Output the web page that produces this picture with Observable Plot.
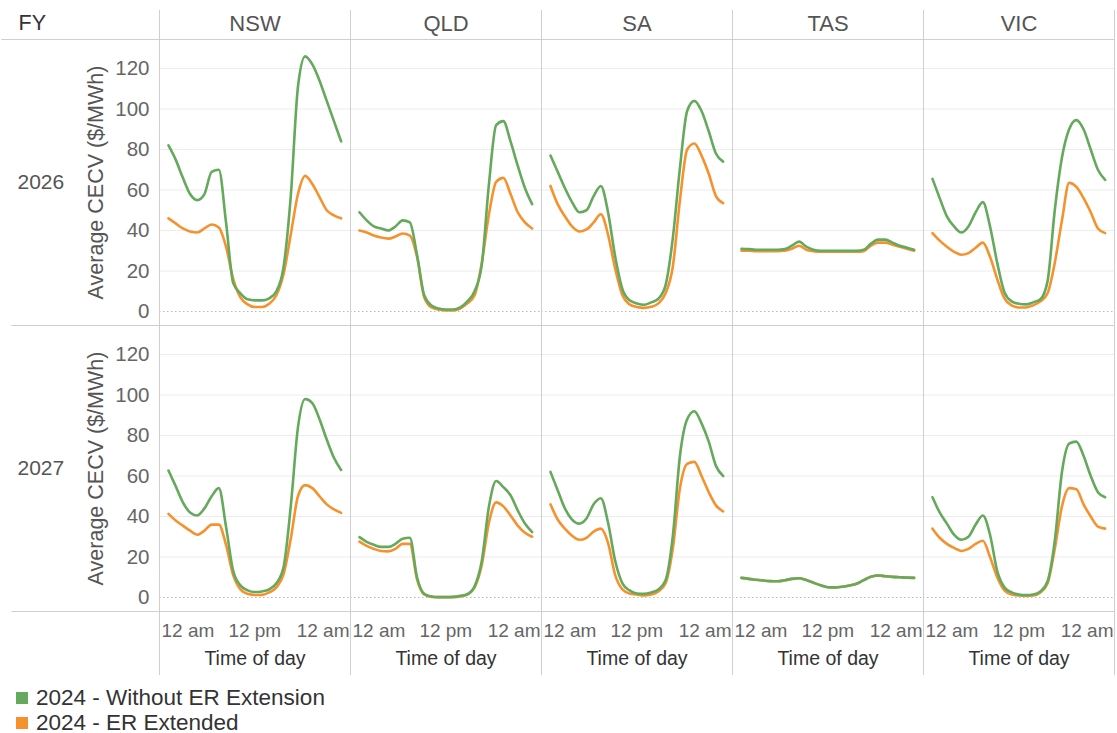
<!DOCTYPE html>
<html>
<head>
<meta charset="utf-8">
<script src="https://cdn.jsdelivr.net/npm/d3@7"></script>
<script src="https://cdn.jsdelivr.net/npm/@observablehq/plot@0.6"></script>
<style>
  html, body { margin: 0; padding: 0; background: #fff; }
  body { font-family: "Liberation Sans", Arial, sans-serif; width: 1117px; height: 733px; overflow: hidden; }
  #legend { padding: 5px 0 0 16px; color: #333; font-size: 22.5px; }
  .item { display: flex; align-items: center; height: 25px; }
  .sw { width: 12px; height: 12px; margin-right: 8px; }
</style>
</head>
<body>
<div id="chart"></div>
<div id="legend"></div>
<script>
// ---------- Data ----------
const regions = ["NSW", "QLD", "SA", "TAS", "VIC"];
const years = ["2026", "2027"];
const series = ["2024 - Without ER Extension", "2024 - ER Extended"];
const seriesColors = ["#64a95c", "#f5922e"];
const hours = [0,1,2,3,4,5,6,7,8,9,10,11,12,13,14,15,16,17,18,19,20,21,22,23,24];
const yTicks = [0, 20, 40, 60, 80, 100, 120];
const xTickLabels = ["12 am", "12 pm", "12 am"];
const xTickHours = [0, 12, 24];

// FY2026
const nsw2026Without = [82,75,66,58,55,58,69,70,44,14,9,6,5.5,5.5,6.5,10,22,57,111,126,122,114,104,94,84];
const nsw2026Extended = [46,43.5,41,39.5,39,41,43,41.5,32,16,7,3.5,2.2,2.2,3.8,8,18.5,38,58,67,63,56.5,50,47.5,46];
const qld2026Without = [49,45,42,41,40,42,45,44,28,8,3,1.5,1,1,2,5,10,23,63,92,94,84,72,61,53];
const qld2026Extended = [40,39,37.5,36.5,36,37,38.5,37.5,27,7,2,1,0.5,0.5,1.5,4,8,24,48,64,66,58,49,44,41];
const sa2026Without = [77,69,61,54,49,50,57,62,49,27,11,5.5,4,3.3,4.5,6.3,13,36,71,99,104,99,89,78,74];
const sa2026Extended = [62,53,47,42,39.5,40.5,44,48,38,21,8,3.5,2.2,1.8,2.3,4,9,22,55,80,83,77,68,57,53.5];
const tas2026Without = [31,30.8,30.5,30.5,30.5,30.5,30.8,32.5,34.5,32,30.5,30,30,30,30,30,30,30.5,33.5,35.5,35.5,34,32.5,31.5,30.5];
const tas2026Extended = [30,30,29.8,29.8,29.8,29.8,30,31,32.5,30.5,29.8,29.5,29.5,29.5,29.5,29.5,29.5,29.8,32.5,34,34,33,32,31,30];
const vic2026Without = [65.5,56,47,42,39,42,49,54,42,24,9.5,5,3.8,3.5,4.5,6,15,50,76,90,94.5,90,80,70,65];
const vic2026Extended = [38.7,35,32,29.5,28,28.8,31.5,34,27,16,6.5,3,2,2,3,5,9,24,45,63.5,61.5,56,49,41,38.7];

// FY2027
const nsw2027Without = [62.7,55,47,42,40.5,44,50,54,35,13,6,3.5,2.7,3,4,7,15,45,84,98,96,88,78,69,63];
const nsw2027Extended = [41.3,38,35.5,33,31,33,36,36,26,11,4,1.8,1.2,1.3,2.5,5,11.5,29,50,55.5,54,50,46,43.5,41.8];
const qld2027Without = [29.8,27.5,26,25,25,26.5,29,29.5,10,1.8,0.5,0.2,0.2,0.3,0.8,1.6,5.5,18,45,57.5,54.5,50.5,43,36.5,32.3];
const qld2027Extended = [27.6,25.5,24,23,22.8,24,26.5,26.5,9,1.5,0.3,0.2,0.2,0.2,0.5,1.5,5,16,37,47,45,40.5,35.5,32,30];
const sa2027Without = [62,53,44,38.5,36.5,39,46,49,37,18,7,3.5,2,1.8,2.5,4,8.5,30,70,88,92,86,77,65,60];
const sa2027Extended = [46,38.5,34,30.5,28.5,29.5,32.5,34,27,11,4,2,1.5,1,1.5,3,7,24,54,66,67,60,52,45.5,42.5];
const tas2027Without = [9.7,9.2,8.8,8.4,8.1,8,8.5,9.2,9.5,8.6,7.3,6,5.1,5,5.3,5.9,6.8,8.6,10.2,10.9,10.5,10.2,10,9.8,9.7];
const tas2027Extended = [9.7,9.2,8.8,8.4,8.1,8,8.5,9.2,9.5,8.6,7.3,6,5.1,5,5.3,5.9,6.8,8.6,10.2,10.9,10.5,10.2,10,9.8,9.7];
const vic2027Without = [49.5,42,36.5,31,28.5,30,36,40.5,31,13,5,2.5,1.5,1.2,1.5,3,8,28,62,76,77,70,60,52,49.5];
const vic2027Extended = [34,29.5,26.5,24.5,23,24,26.5,28,20,10,3.5,1.5,1,0.8,1,2.5,7,24,45,54,53.5,46,40,35,34];

const table = {
  "NSW|2026": [nsw2026Without, nsw2026Extended],
  "QLD|2026": [qld2026Without, qld2026Extended],
  "SA|2026": [sa2026Without, sa2026Extended],
  "TAS|2026": [tas2026Without, tas2026Extended],
  "VIC|2026": [vic2026Without, vic2026Extended],
  "NSW|2027": [nsw2027Without, nsw2027Extended],
  "QLD|2027": [qld2027Without, qld2027Extended],
  "SA|2027": [sa2027Without, sa2027Extended],
  "TAS|2027": [tas2027Without, tas2027Extended],
  "VIC|2027": [vic2027Without, vic2027Extended]
};

// Long-format rows (orange drawn first so green sits on top)
const rows = [];
for (const fy of years) for (const region of regions) {
  const pair = table[region + "|" + fy];
  for (const s of [1, 0]) {
    pair[s].forEach((v, i) => rows.push({region, fy, series: series[s], hour: hours[i], value: v}));
  }
}

// ---------- Layout ----------
const W = 1117, H = 680, mL = 158, mR = 2, mT = 39, mB = 69;
const facetW = (W - mL - mR) / regions.length;
const facetH = (H - mT - mB) / years.length;
const pxPerHour = 173 / 24;
const x0 = -9 / pxPerHour;
const x1 = 24 + (facetW - 182) / pxPerHour;
const pxPerUnit = 243 / 120;
const yTop = 120 + 29 / pxPerUnit;
const yBot = -(facetH - 272) / pxPerUnit;
const xAtPx = p => x0 + p / pxPerHour;      // p: pixels from facet left
const yAtPx = p => yTop - p / pxPerUnit;     // p: pixels from facet top

// decoration data
const vDividers = [];
for (const region of regions) {
  vDividers.push({region, fy: "2026", x: x0, y1: yAtPx(-29), y2: yAtPx(facetH)});
  vDividers.push({region, fy: "2027", x: x0, y1: yAtPx(0), y2: yAtPx(facetH + 64)});
}
vDividers.push({region: "VIC", fy: "2026", x: x1, y1: yAtPx(-29), y2: yAtPx(facetH)});
vDividers.push({region: "VIC", fy: "2027", x: x1, y1: yAtPx(0), y2: yAtPx(facetH + 64)});

const hLines = [];
for (const region of regions) {
  const first = region === "NSW";
  hLines.push({region, fy: "2026", y: yTop, x1: first ? xAtPx(-mL) : x0, x2: x1});
  hLines.push({region, fy: "2026", y: yBot, x1: first ? xAtPx(-mL + 10) : x0, x2: x1});
  hLines.push({region, fy: "2027", y: yBot, x1: first ? xAtPx(-mL + 10) : x0, x2: x1});
}

const headerRow = regions.map(region => ({region, fy: "2026"}));
const bottomRow = regions.map(region => ({region, fy: "2027"}));
const leftCol = years.map(fy => ({region: "NSW", fy}));

const textGrey = "#555";

const chart = Plot.plot({
  width: W, height: H,
  marginLeft: mL, marginRight: mR, marginTop: mT, marginBottom: mB,
  fx: {domain: regions, padding: 0, axis: null},
  fy: {domain: years, padding: 0, axis: null},
  x: {domain: [x0, x1], axis: null},
  y: {domain: [yBot, yTop]},
  color: {domain: series, range: seriesColors},
  style: {fontFamily: '"Liberation Sans", Arial, sans-serif', background: "#fff", color: textGrey},
  marks: [
    Plot.ruleY(yTicks.filter(d => d > 0), {stroke: "#ececec", strokeWidth: 1}),
    Plot.ruleY([0], {stroke: "#b8b8b8", strokeDasharray: "1.5,2.5"}),
    Plot.ruleX(vDividers, {fx: "region", fy: "fy", x: "x", y1: "y1", y2: "y2", stroke: "#cfcfcf"}),
    Plot.ruleY(hLines, {fx: "region", fy: "fy", y: "y", x1: "x1", x2: "x2", stroke: "#cfcfcf"}),
    Plot.axisY({ticks: yTicks, tickSize: 0, tickPadding: 10, fontSize: 20.5, fill: "#666", label: null}),
    Plot.line(rows, {
      fx: "region", fy: "fy", x: "hour", y: "value", z: "series", stroke: "series",
      strokeWidth: 2.6, curve: "monotone-x"
    }),
    // column headers
    Plot.text(headerRow, {fx: "region", fy: "fy", frameAnchor: "top", lineAnchor: "middle", dy: -16, text: "region", fontSize: 22, fill: textGrey}),
    Plot.text(leftCol.slice(0, 1), {fx: "region", fy: "fy", frameAnchor: "top-left", lineAnchor: "middle", dx: -141, dy: -16, textAnchor: "start", text: () => "FY", fontSize: 21.5, fill: "#333"}),
    // row headers
    Plot.text(leftCol, {fx: "region", fy: "fy", frameAnchor: "left", dx: -142, textAnchor: "start", text: "fy", fontSize: 21, fill: textGrey}),
    // y axis title
    Plot.text(leftCol, {fx: "region", fy: "fy", frameAnchor: "left", textAnchor: "middle", lineAnchor: "middle", dx: -63, rotate: -90, text: () => "Average CECV ($/MWh)", fontSize: 21.5, fill: textGrey}),
    // x tick labels
    Plot.text(bottomRow, {fx: "region", fy: "fy", frameAnchor: "bottom-left", lineAnchor: "middle", dx: 2, dy: 19, textAnchor: "start", text: () => xTickLabels[0], fontSize: 19, fill: "#666"}),
    Plot.text(bottomRow, {fx: "region", fy: "fy", x: () => xTickHours[1], frameAnchor: "bottom", lineAnchor: "middle", dy: 19, text: () => xTickLabels[1], fontSize: 19, fill: "#666"}),
    Plot.text(bottomRow, {fx: "region", fy: "fy", frameAnchor: "bottom-right", lineAnchor: "middle", dx: -1, dy: 19, textAnchor: "end", text: () => xTickLabels[2], fontSize: 19, fill: "#666"}),
    Plot.text(bottomRow, {fx: "region", fy: "fy", frameAnchor: "bottom", lineAnchor: "middle", dy: 47, text: () => "Time of day", fontSize: 19.5, fill: "#333"})
  ]
});
document.getElementById("chart").appendChild(chart);

// legend
const legend = document.getElementById("legend");
series.forEach((s, i) => {
  const item = document.createElement("div");
  item.className = "item";
  const sw = document.createElement("span");
  sw.className = "sw";
  sw.style.background = seriesColors[i];
  const label = document.createElement("span");
  label.textContent = s;
  item.appendChild(sw);
  item.appendChild(label);
  legend.appendChild(item);
});
</script>
</body>
</html>
